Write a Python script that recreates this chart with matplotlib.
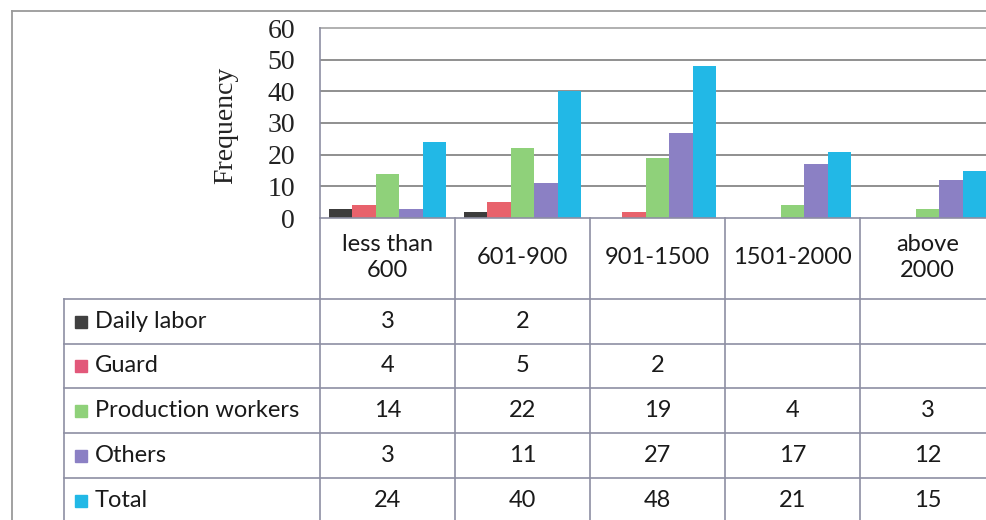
import matplotlib
matplotlib.use("Agg")
import matplotlib.pyplot as plt
from matplotlib.lines import Line2D
from matplotlib.patches import Rectangle

# Income bands (monthly) and frequency of respondents by occupation
categories = ["less than\n600", "601-900", "901-1500", "1501-2000", "above\n2000"]
series_names = ["Daily labor", "Guard", "Production workers", "Others", "Total"]
daily_labor = [3, 2, None, None, None]
guard = [4, 5, 2, None, None]
production_workers = [14, 22, 19, 4, 3]
others = [3, 11, 27, 17, 12]
total = [24, 40, 48, 21, 15]
y_ticks = [0, 10, 20, 30, 40, 50, 60]

series_values = [daily_labor, guard, production_workers, others, total]
colors = ["#3c3c3c", "#e8626c", "#8fd17a", "#8b80c4", "#22b8e6"]
square_colors = ["#404040", "#e2587a", "#8fd17a", "#8b80c4", "#22b8e6"]

W, H = 987, 520
fig = plt.figure(figsize=(W / 100, H / 100), dpi=100)
fig.patch.set_facecolor("white")

def fx(px):
    return px / W

def fy(py):
    return 1 - py / H

line_col = "#8d8fa3"
grid_col = "#7d7d7d"

# plot area (column boundaries every 135 px starting at x=320)
x0, x_right, y_top, y_base = 320, W, 28, 218
col_w = 135
ax = fig.add_axes([fx(x0), fy(y_base), fx(x_right - x0), (y_base - y_top) / H])
ax.set_xlim(0, (x_right - x0) / col_w)
ax.set_ylim(0, 60)
ax.set_yticks(y_ticks)
ax.set_yticklabels([str(t) for t in y_ticks], family="Liberation Serif",
                   fontsize=20, color="#222222")
ax.tick_params(axis="y", length=0, pad=18)
ax.set_xticks([])
for s in ["top", "right", "bottom"]:
    ax.spines[s].set_visible(False)
ax.spines["left"].set_color(line_col)
ax.spines["left"].set_linewidth(1.2)
for t in y_ticks[1:-1]:
    ax.axhline(t, color=grid_col, lw=1.2, zorder=0)
ax.axhline(y_ticks[-1], color="#b0b0b0", lw=1.4, zorder=0, clip_on=False)

bar_w = 0.174
for j, vals in enumerate(series_values):
    for i, v in enumerate(vals):
        if v is None:
            continue
        ax.bar(i + 0.5 + (j - 2) * bar_w, v, width=bar_w, color=colors[j],
               edgecolor="none", zorder=2)

fig.text(fx(226), fy(125), "Frequency", rotation=90, ha="center", va="center",
         family="Liberation Serif", fontsize=20, color="#222222")

# data table under the chart
tab_left = 64
tab = fig.add_axes([fx(tab_left), 0, fx(W - tab_left), (H - y_base) / H])
tab.set_xlim((tab_left - x0) / col_w, (W - x0) / col_w)
tab.set_ylim(H - y_base, 0)
tab.axis("off")

row_edges = [0, 81, 126, 170, 215, 260, 305]
xl = (tab_left - x0) / col_w
xr = (W - x0) / col_w
tab.plot([0, xr], [0, 0], color=line_col, lw=1.2, clip_on=False)
for r in row_edges[1:]:
    tab.plot([xl, xr], [r, r], color=line_col, lw=1.2, clip_on=False)
tab.plot([xl, xl], [row_edges[1], row_edges[-1]], color=line_col, lw=1.2, clip_on=False)
for c in range(0, 5):
    tab.plot([c, c], [0, row_edges[-1]], color=line_col, lw=1.2, clip_on=False)

tfont = dict(family="Lato", fontsize=17, color="#1a1a1a")
for i, cat in enumerate(categories):
    tab.text(i + 0.5, row_edges[1] / 2 - 1, cat, ha="center", va="center",
             linespacing=1.3, **tfont)

sq = 12 / col_w
for j, name in enumerate(series_names):
    yc = (row_edges[j + 1] + row_edges[j + 2]) / 2
    tab.add_patch(Rectangle(((75 - x0) / col_w, yc - 6), sq, 12,
                            color=square_colors[j], clip_on=False))
    tab.text((95 - x0) / col_w, yc, name, ha="left", va="center", **tfont)
    for i, v in enumerate(series_values[j]):
        if v is None:
            continue
        tab.text(i + 0.5, yc, str(v), ha="center", va="center", **tfont)

# outer frame of the chart object
frame_col = "#9a9a9a"
fig.add_artist(Line2D([fx(12), fx(12)], [fy(11), 0], color=frame_col, lw=1.3))
fig.add_artist(Line2D([fx(12), 1], [fy(11), fy(11)], color=frame_col, lw=1.3))

fig.savefig("out.png", dpi=100, facecolor="white")
